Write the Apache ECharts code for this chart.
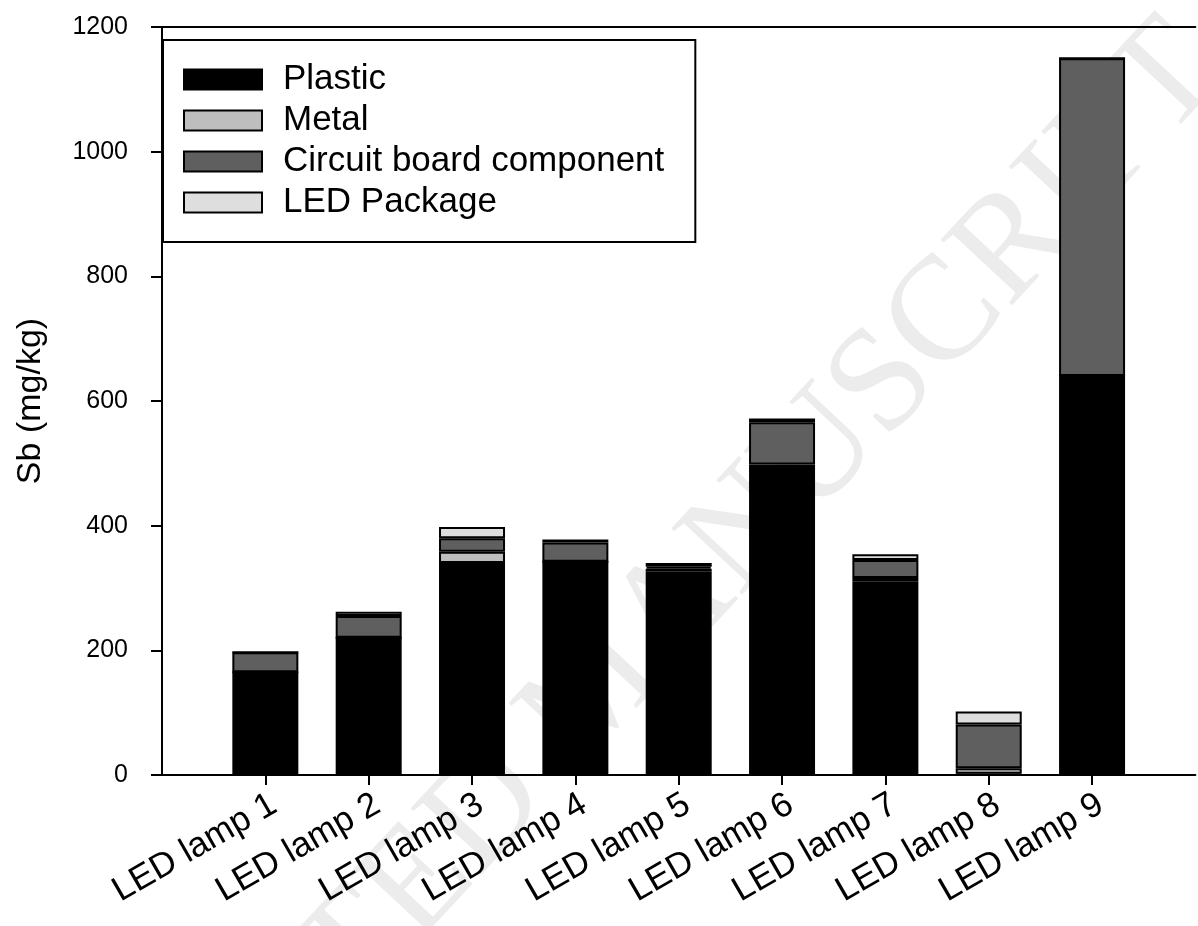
<!DOCTYPE html>
<html>
<head>
<meta charset="utf-8">
<script src="https://cdn.jsdelivr.net/npm/echarts@6/dist/echarts.min.js"></script>
<style>
  html, body { margin: 0; padding: 0; background: #fff; }
  #chart { width: 1198px; height: 926px; }
</style>
</head>
<body>
<div id="chart"></div>
<script>
// Sb concentration (mg/kg) by material fraction for each LED lamp
const categories = ['LED lamp 1', 'LED lamp 2', 'LED lamp 3', 'LED lamp 4', 'LED lamp 5',
                    'LED lamp 6', 'LED lamp 7', 'LED lamp 8', 'LED lamp 9'];
const plastic      = [165, 220, 340, 342, 326, 494, 311,  2, 640];
const metal        = [  0,   0,  18,   0,   5,   4,   5,  9,   0];
const circuitBoard = [ 32,  35,  22,  31,   3,  68,  29, 70, 510];
const ledPackage   = [  0,   7,  18,   5,   6,   6,   9, 21,   0];
const yTicks = [0, 200, 400, 600, 800, 1000, 1200];

const FONT = "'Liberation Sans', Arial, sans-serif";

// one empty slot on each side gives the half-width margins at the axis ends
const axisSlots = [''].concat(categories, ['']);
const padded = vals => [null].concat(vals, [null]);

const seriesDefs = [
  { name: 'Plastic', data: plastic, color: '#000000' },
  { name: 'Metal', data: metal, color: '#bebebe' },
  { name: 'Circuit board component', data: circuitBoard, color: '#5f5f5f' },
  { name: 'LED Package', data: ledPackage, color: '#dedede' }
];

const chart = echarts.init(document.getElementById('chart'), null, { renderer: 'canvas' });

chart.setOption({
  backgroundColor: '#ffffff',
  animation: false,
  textStyle: { fontFamily: FONT },
  graphic: [{
    type: 'text',
    x: 600, y: 690,
    rotation: 47 * Math.PI / 180,
    z: -100,
    silent: true,
    style: {
      text: 'ACCEPTED MANUSCRIPT',
      font: "148px 'Liberation Serif', 'DejaVu Serif', serif",
      fill: '#ececec',
      align: 'center',
      verticalAlign: 'middle'
    }
  }],
  grid: { left: 162, right: 0, top: 27, bottom: 151, containLabel: false },
  legend: {
    orient: 'vertical',
    left: 163, top: 40,
    backgroundColor: '#ffffff',
    borderColor: '#000', borderWidth: 2,
    padding: [22, 31, 22, 20],
    itemWidth: 78, itemHeight: 20, itemGap: 6,
    icon: 'rect',
    itemStyle: { borderColor: '#000', borderWidth: 2 },
    textStyle: { fontSize: 35, lineHeight: 34, color: '#000', fontFamily: FONT, padding: [0, 0, 0, 16] },
    data: seriesDefs.map(s => s.name)
  },
  xAxis: [{
    type: 'category',
    data: axisSlots,
    boundaryGap: false,
    position: 'bottom',
    axisLine: { show: true, lineStyle: { color: '#000', width: 2 } },
    axisTick: { show: true, inside: false, length: 10, lineStyle: { color: '#000', width: 2 },
                interval: (i, v) => v !== '' },
    axisLabel: { show: true, rotate: 30, fontSize: 35, color: '#000', margin: 12,
                 align: 'right', verticalAlign: 'top', interval: 0 },
    splitLine: { show: false }
  }, {
    type: 'category',
    data: axisSlots,
    boundaryGap: false,
    position: 'top',
    axisLine: { show: true, lineStyle: { color: '#000', width: 2 } },
    axisTick: { show: false }, axisLabel: { show: false }, splitLine: { show: false }
  }],
  yAxis: {
    type: 'value', min: 0, max: 1200, interval: 200,
    name: 'Sb (mg/kg)', nameLocation: 'middle', nameRotate: 90, nameGap: 114,
    nameTextStyle: { fontSize: 34, color: '#000', fontFamily: FONT },
    axisLine: { show: true, lineStyle: { color: '#000', width: 2 } },
    axisTick: { show: true, inside: false, length: 11, lineStyle: { color: '#000', width: 2 } },
    axisLabel: { fontSize: 25, color: '#000', margin: 34,
                 customValues: yTicks, formatter: v => String(v) },
    splitLine: { show: false }
  },
  series: seriesDefs.map(s => ({
    name: s.name,
    type: 'bar',
    stack: 'sb',
    xAxisIndex: 0,
    barWidth: 66,
    data: padded(s.data),
    itemStyle: { color: s.color, borderColor: '#000', borderWidth: 2 },
    emphasis: { disabled: true }
  }))
});
</script>
</body>
</html>
